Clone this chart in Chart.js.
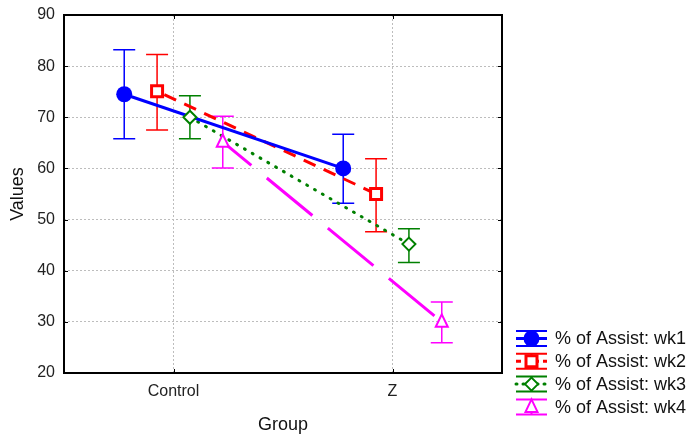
<!DOCTYPE html>
<html>
<head>
<meta charset="utf-8">
<script src="https://cdn.jsdelivr.net/npm/chart.js@4.4.1/dist/chart.umd.min.js"></script>
<style>
  html, body { margin: 0; padding: 0; background: #fff; }
  #wrap { width: 689px; height: 441px; position: relative; }
</style>
</head>
<body>
<div id="wrap"><canvas id="chart"></canvas></div>
<script>
// groups on the x axis and the four weekly series (mean, lower, upper)
const groups = ["Control", "Z"];
const seriesNames = ["% of Assist: wk1", "% of Assist: wk2", "% of Assist: wk3", "% of Assist: wk4"];

const wk1Mean = [74.5, 60.0];
const wk1Low  = [65.8, 53.2];
const wk1High = [83.2, 66.7];

const wk2Mean = [75.1, 55.0];
const wk2Low  = [67.5, 47.6];
const wk2High = [82.3, 61.9];

const wk3Mean = [70.0, 45.2];
const wk3Low  = [65.8, 41.6];
const wk3High = [74.2, 48.2];

const wk4Mean = [65.2, 30.0];
const wk4Low  = [60.1, 25.9];
const wk4High = [70.2, 33.9];

const yTicks = [20, 30, 40, 50, 60, 70, 80, 90];

const FONT = "'Liberation Sans', Arial, sans-serif";

const styles = [
  { color: "#0000ff", dash: [],       offset: 0,  cap: "butt",  marker: "circle",   fill: true  },
  { color: "#ff0000", dash: [13, 9],  offset: 14, cap: "butt",  marker: "square",   fill: false },
  { color: "#008000", dash: [1, 8],   offset: 0,  cap: "round", marker: "diamond",  fill: false },
  { color: "#ff00ff", dash: [59, 20], offset: 22, cap: "butt",  marker: "triangle", fill: false }
];
const offsets = [-0.45, -0.15, 0.15, 0.45];

const means = [wk1Mean, wk2Mean, wk3Mean, wk4Mean];
const lows  = [wk1Low, wk2Low, wk3Low, wk4Low];
const highs = [wk1High, wk2High, wk3High, wk4High];

function groupPos(i){ return 1 + i * 2; }

function drawMarker(ctx, kind, x, y, color, fill){
  ctx.save();
  ctx.strokeStyle = color;
  ctx.fillStyle = fill ? color : "#fff";
  ctx.setLineDash([]);
  ctx.beginPath();
  if (kind === "circle") {
    ctx.arc(x, y, 8, 0, Math.PI * 2);
    ctx.fill();
  } else if (kind === "square") {
    ctx.lineWidth = 3;
    ctx.rect(x - 5.5, y - 5.5, 11, 11);
    ctx.fill(); ctx.stroke();
  } else if (kind === "diamond") {
    ctx.lineWidth = 2;
    ctx.moveTo(x, y - 6.5); ctx.lineTo(x + 6.5, y); ctx.lineTo(x, y + 6.5); ctx.lineTo(x - 6.5, y);
    ctx.closePath();
    ctx.fill(); ctx.stroke();
  } else {
    ctx.lineWidth = 2;
    ctx.moveTo(x, y - 7.5); ctx.lineTo(x + 6, y + 5); ctx.lineTo(x - 6, y + 5);
    ctx.closePath();
    ctx.fill(); ctx.stroke();
  }
  ctx.restore();
}

const datasets = seriesNames.map((name, s) => ({
  label: name,
  data: groups.map((g, i) => ({ x: groupPos(i) + offsets[s], y: means[s][i] })),
  low: lows[s],
  high: highs[s],
  borderColor: styles[s].color,
  borderWidth: 3,
  borderDash: styles[s].dash,
  borderDashOffset: styles[s].offset,
  borderCapStyle: styles[s].cap,
  pointRadius: 0,
  fill: false,
  tension: 0
}));

// whiskers behind the lines, markers on top
const errorBars = {
  id: "errorBars",
  beforeDatasetsDraw(chart){
    const ctx = chart.ctx, xs = chart.scales.x, ys = chart.scales.y;
    chart.data.datasets.forEach((ds) => {
      ctx.save();
      ctx.strokeStyle = ds.borderColor;
      ctx.lineWidth = 1.5;
      ds.data.forEach((p, i) => {
        const x = xs.getPixelForValue(p.x);
        const y1 = ys.getPixelForValue(ds.low[i]);
        const y2 = ys.getPixelForValue(ds.high[i]);
        ctx.beginPath();
        ctx.moveTo(x, y1); ctx.lineTo(x, y2);
        ctx.moveTo(x - 11, y1); ctx.lineTo(x + 11, y1);
        ctx.moveTo(x - 11, y2); ctx.lineTo(x + 11, y2);
        ctx.stroke();
      });
      ctx.restore();
    });
  },
  afterDatasetsDraw(chart){
    const ctx = chart.ctx, xs = chart.scales.x, ys = chart.scales.y;
    chart.data.datasets.forEach((ds, s) => {
      ds.data.forEach((p) => {
        drawMarker(ctx, styles[s].marker, xs.getPixelForValue(p.x), ys.getPixelForValue(p.y),
          styles[s].color, styles[s].fill);
      });
    });
  }
};

// black box round the plot with small inner ticks
const frame = {
  id: "frame",
  afterDraw(chart){
    const ctx = chart.ctx, a = chart.chartArea, xs = chart.scales.x, ys = chart.scales.y;
    ctx.save();
    ctx.strokeStyle = "#000";
    ctx.lineWidth = 2;
    ctx.strokeRect(a.left, a.top, a.right - a.left, a.bottom - a.top);
    ctx.lineWidth = 1;
    ctx.beginPath();
    yTicks.forEach(v => {
      const y = Math.round(ys.getPixelForValue(v)) + 0.5;
      ctx.moveTo(a.left, y); ctx.lineTo(a.left + 4, y);
      ctx.moveTo(a.right - 4, y); ctx.lineTo(a.right, y);
    });
    groups.forEach((g, i) => {
      const x = Math.round(xs.getPixelForValue(groupPos(i))) + 0.5;
      ctx.moveTo(x, a.bottom); ctx.lineTo(x, a.bottom - 4);
      ctx.moveTo(x, a.top); ctx.lineTo(x, a.top + 4);
    });
    ctx.stroke();
    ctx.restore();
  }
};

// legend in the lower right corner
const legendBox = {
  id: "legendBox",
  afterDraw(chart){
    const ctx = chart.ctx;
    const x0 = 516, x1 = 547, cx = 531.5, tx = 555;
    const legendDash = [[], [5, 4], [1, 6], [0, 40]];
    seriesNames.forEach((name, s) => {
      const y = 338.5 + s * 22.8;
      const st = styles[s];
      ctx.save();
      ctx.strokeStyle = st.color;
      ctx.lineWidth = 2;
      ctx.beginPath();
      ctx.moveTo(x0, y - 7.5); ctx.lineTo(x1, y - 7.5);
      ctx.moveTo(x0, y + 7.5); ctx.lineTo(x1, y + 7.5);
      ctx.moveTo(cx, y - 7.5); ctx.lineTo(cx, y + 7.5);
      ctx.stroke();
      ctx.lineWidth = 3;
      ctx.setLineDash(legendDash[s]);
      ctx.lineCap = st.cap;
      ctx.beginPath();
      ctx.moveTo(x0, y); ctx.lineTo(x1, y);
      ctx.stroke();
      ctx.restore();
      drawMarker(ctx, st.marker, cx, y, st.color, st.fill);
      ctx.save();
      ctx.fillStyle = "#111";
      ctx.font = "18px " + FONT;
      ctx.textBaseline = "middle";
      ctx.fillText(name, tx, y + 1);
      ctx.restore();
    });
  }
};

new Chart(document.getElementById("chart"), {
  type: "line",
  data: { datasets },
  options: {
    responsive: true,
    maintainAspectRatio: false,
    animation: false,
    layout: { padding: { top: 15, right: 187, left: 0, bottom: 0 } },
    plugins: { legend: { display: false }, tooltip: { enabled: false } },
    scales: {
      x: {
        type: "linear",
        min: 0, max: 4,
        afterBuildTicks: (sc) => { sc.ticks = groups.map((g, i) => ({ value: groupPos(i) })); },
        afterFit: (sc) => { sc.height = 68; sc.paddingLeft = 0; sc.paddingRight = 0; },
        ticks: {
          callback: (v) => groups[(v - 1) / 2],
          font: { family: FONT, size: 16 }, color: "#222", padding: 9, maxRotation: 0
        },
        grid: { color: "#bdbdbd", lineWidth: 1, drawTicks: false },
        border: { display: false, dash: [2, 2] },
        title: { display: true, text: "Group", font: { family: FONT, size: 18 }, color: "#111", padding: { bottom: 5 } }
      },
      y: {
        min: 20, max: 90,
        afterBuildTicks: (sc) => { sc.ticks = yTicks.map(v => ({ value: v })); },
        afterFit: (sc) => { sc.width = 64; sc.paddingTop = 0; sc.paddingBottom = 0; },
        ticks: { font: { family: FONT, size: 16 }, color: "#222", padding: 9 },
        grid: { color: "#bdbdbd", lineWidth: 1, drawTicks: false },
        border: { display: false, dash: [2, 2] },
        title: { display: true, text: "Values", font: { family: FONT, size: 18 }, color: "#111", padding: { top: 7 } }
      }
    }
  },
  plugins: [errorBars, frame, legendBox]
});
</script>
</body>
</html>
